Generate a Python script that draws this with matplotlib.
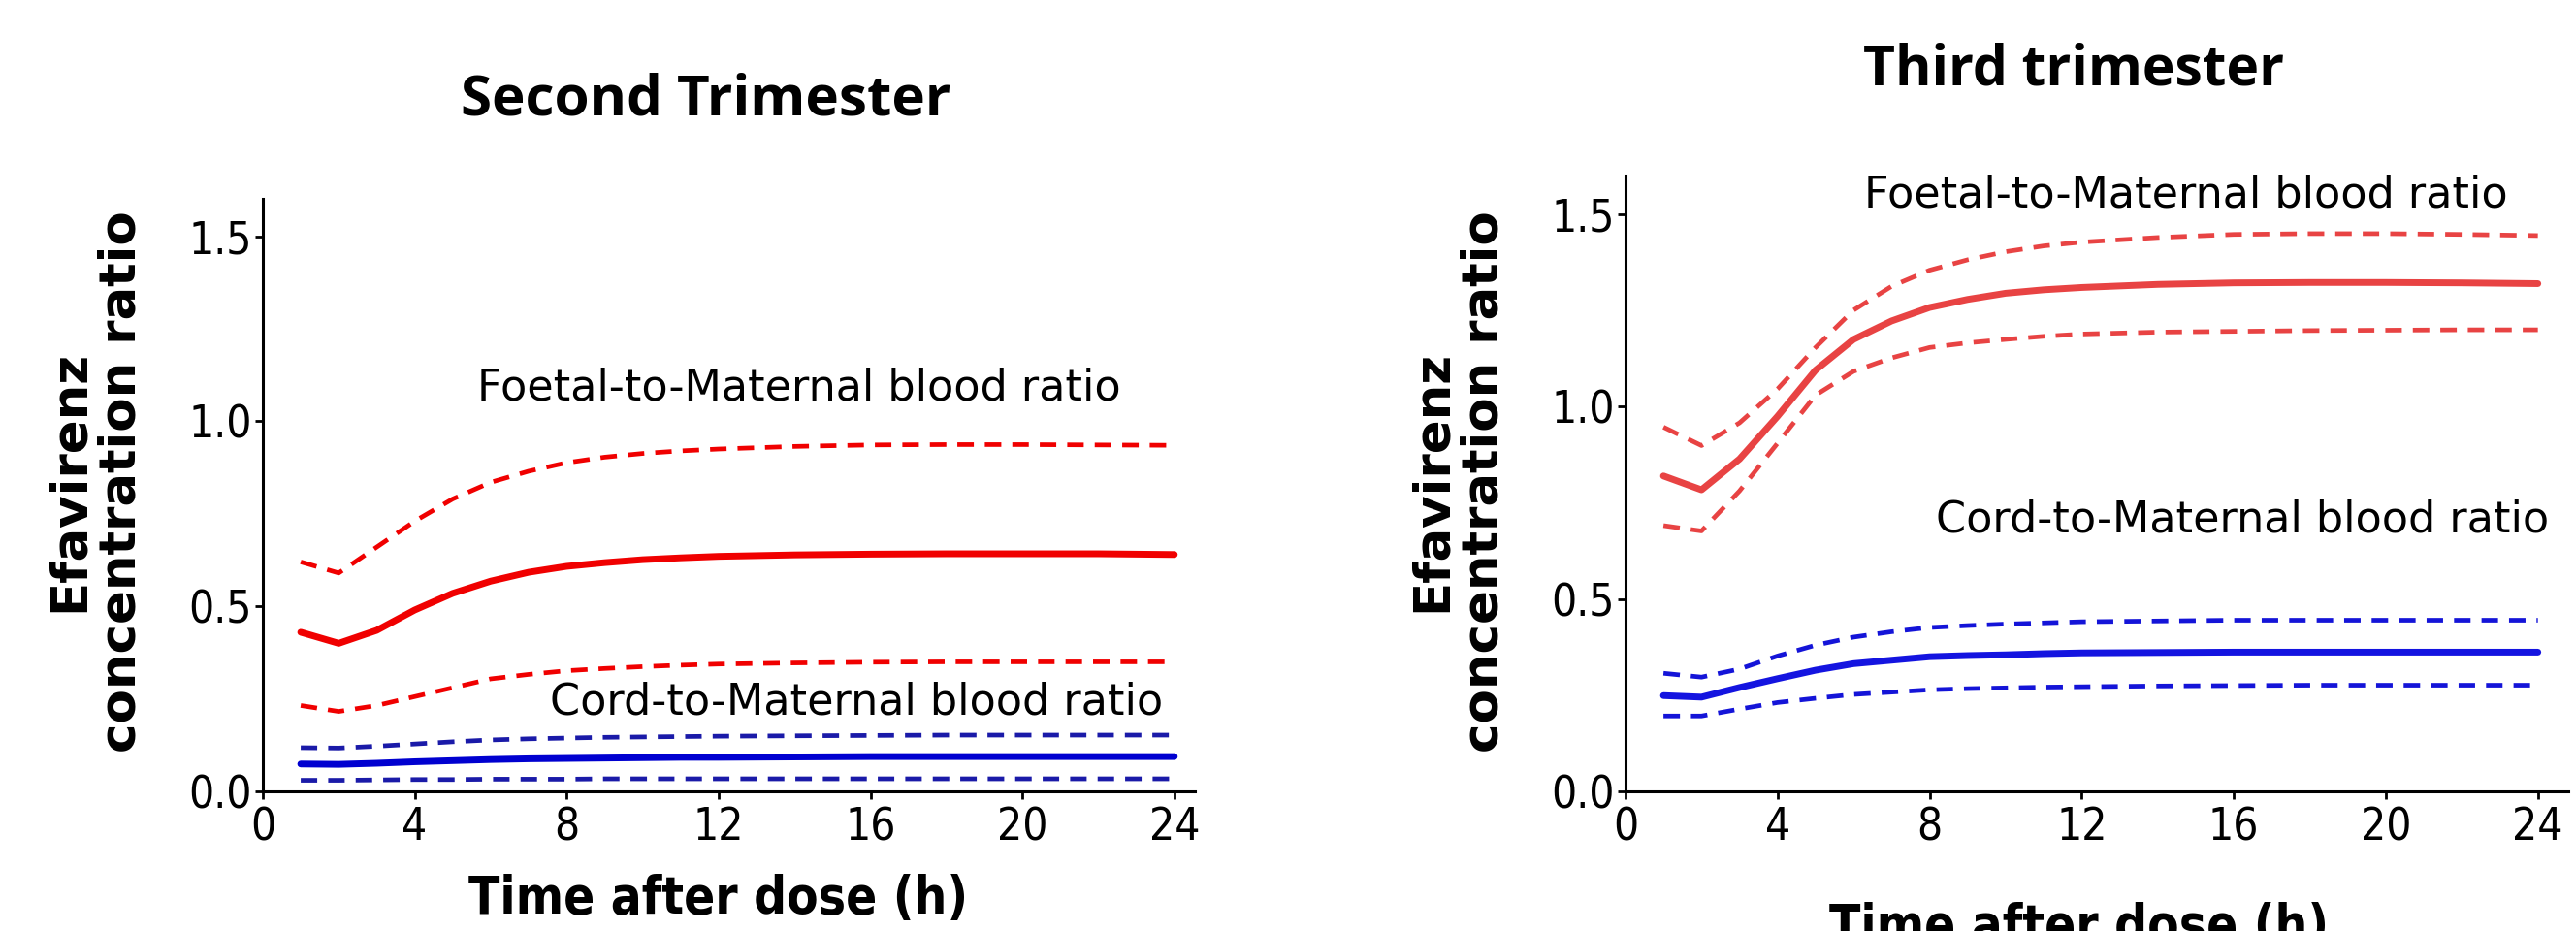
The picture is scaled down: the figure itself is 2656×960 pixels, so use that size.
import matplotlib
matplotlib.use("Agg")
import matplotlib.pyplot as plt

# hours after dose
t = [1, 2, 3, 4, 5, 6, 7, 8, 9, 10, 11, 12, 14, 16, 18, 20, 22, 24]

# second trimester
fm2_med = [0.43, 0.40, 0.435, 0.49, 0.535, 0.568, 0.592, 0.608, 0.618, 0.626, 0.631, 0.635, 0.639, 0.641, 0.642, 0.642, 0.642, 0.640]
fm2_hi = [0.62, 0.59, 0.66, 0.73, 0.79, 0.835, 0.865, 0.888, 0.903, 0.913, 0.92, 0.925, 0.932, 0.936, 0.937, 0.937, 0.936, 0.935]
fm2_lo = [0.232, 0.216, 0.232, 0.256, 0.28, 0.304, 0.316, 0.326, 0.332, 0.337, 0.341, 0.344, 0.347, 0.349, 0.35, 0.35, 0.35, 0.35]
cm2_med = [0.074, 0.073, 0.076, 0.08, 0.083, 0.086, 0.088, 0.089, 0.09, 0.091, 0.092, 0.092, 0.093, 0.094, 0.094, 0.094, 0.094, 0.094]
cm2_hi = [0.118, 0.117, 0.122, 0.128, 0.134, 0.139, 0.142, 0.144, 0.146, 0.147, 0.148, 0.149, 0.15, 0.151, 0.152, 0.152, 0.152, 0.152]
cm2_lo = [0.030, 0.030, 0.031, 0.032, 0.032, 0.033, 0.033, 0.033, 0.034, 0.034, 0.034, 0.034, 0.034, 0.034, 0.034, 0.034, 0.034, 0.034]

# third trimester
fm3_med = [0.82, 0.784, 0.864, 0.975, 1.095, 1.175, 1.223, 1.258, 1.279, 1.295, 1.304, 1.31, 1.318, 1.322, 1.323, 1.323, 1.322, 1.32]
fm3_hi = [0.947, 0.899, 0.958, 1.046, 1.154, 1.251, 1.313, 1.355, 1.382, 1.403, 1.418, 1.428, 1.44, 1.448, 1.45, 1.45, 1.448, 1.445]
fm3_lo = [0.691, 0.677, 0.781, 0.905, 1.03, 1.092, 1.127, 1.154, 1.166, 1.175, 1.183, 1.189, 1.194, 1.196, 1.198, 1.199, 1.2, 1.2]
cm3_med = [0.249, 0.245, 0.27, 0.293, 0.315, 0.332, 0.341, 0.35, 0.353, 0.355, 0.358, 0.36, 0.361, 0.362, 0.362, 0.362, 0.362, 0.362]
cm3_hi = [0.307, 0.297, 0.318, 0.352, 0.38, 0.401, 0.415, 0.426, 0.431, 0.435, 0.438, 0.441, 0.443, 0.445, 0.445, 0.445, 0.445, 0.445]
cm3_lo = [0.196, 0.196, 0.214, 0.231, 0.242, 0.252, 0.258, 0.264, 0.267, 0.269, 0.271, 0.272, 0.274, 0.275, 0.276, 0.276, 0.276, 0.276]

xticks = [0, 4, 8, 12, 16, 20, 24]
yticks = [0.0, 0.5, 1.0, 1.5]
ylabel = "Efavirenz\nconcentration ratio"
xlabel = "Time after dose (h)"
fm_text = "Foetal-to-Maternal blood ratio"
cm_text = "Cord-to-Maternal blood ratio"

tick_font = dict(family="DejaVu Sans", stretch="condensed", size=33)
note_font = dict(family="DejaVu Sans", size=32)
DASH = (3.6, 2.4)


def style_axes(ax, xmax):
    ax.set_xlim(0, xmax)
    ax.set_ylim(0, 1.6)
    ax.set_xticks(xticks)
    ax.set_yticks(yticks)
    ax.set_xticklabels([str(x) for x in xticks], fontdict=tick_font)
    ax.set_yticklabels(["%.1f" % y for y in yticks], fontdict=tick_font)
    ax.spines["top"].set_visible(False)
    ax.spines["right"].set_visible(False)
    ax.spines["left"].set_linewidth(2.2)
    ax.spines["bottom"].set_linewidth(2.2)
    ax.tick_params(length=6, width=2, pad=2)
    ax.tick_params(axis="x", pad=5)


def draw_panel(ax, fm, cm, red, blue, blue_dash):
    ax.plot(t, fm[1], color=red, lw=3.4, dashes=DASH)
    ax.plot(t, fm[2], color=red, lw=3.4, dashes=DASH)
    ax.plot(t, fm[0], color=red, lw=5, solid_capstyle="round")
    ax.plot(t, cm[1], color=blue_dash, lw=3.4, dashes=DASH)
    ax.plot(t, cm[2], color=blue_dash, lw=3.4, dashes=DASH)
    ax.plot(t, cm[0], color=blue, lw=5, solid_capstyle="round")


fig = plt.figure(figsize=(26.56, 9.6), dpi=100, facecolor="w")

ax1 = fig.add_axes([0.102, 0.150, 0.362, 0.636])
draw_panel(ax1, (fm2_med, fm2_hi, fm2_lo), (cm2_med, cm2_hi, cm2_lo),
           "#f00000", "#0000d0", "#1a1aa8")
style_axes(ax1, 24.55)
ax1.text(22.6, 1.09, fm_text, ha="right", va="center", **note_font)
ax1.text(23.7, 0.24, cm_text, ha="right", va="center", **note_font)

ax2 = fig.add_axes([0.631, 0.150, 0.366, 0.661])
draw_panel(ax2, (fm3_med, fm3_hi, fm3_lo), (cm3_med, cm3_hi, cm3_lo),
           "#e84343", "#1414e0", "#1414d8")
style_axes(ax2, 24.8)
ax2.text(23.2, 1.55, fm_text, ha="right", va="center", **note_font)
ax2.text(24.3, 0.705, cm_text, ha="right", va="center", **note_font)

fig.text(0.274, 0.892, "Second Trimester", ha="center", va="center",
         family="Open Sans", weight="bold", size=42)
fig.text(0.805, 0.924, "Third trimester", ha="center", va="center",
         family="Open Sans", weight="bold", size=41)

fig.text(0.037, 0.483, ylabel, ha="center", va="center", rotation=90,
         family="DejaVu Sans", weight="bold", size=37, linespacing=1.1)
fig.text(0.566, 0.483, ylabel, ha="center", va="center", rotation=90,
         family="DejaVu Sans", weight="bold", size=37, linespacing=1.1)

fig.text(0.279, 0.034, xlabel, ha="center", va="center", family="DejaVu Sans",
         stretch="condensed", weight="bold", size=38)
fig.text(0.807, 0.004, xlabel, ha="center", va="center", family="DejaVu Sans",
         stretch="condensed", weight="bold", size=38)

fig.savefig("out.png", dpi=100, facecolor="w")
